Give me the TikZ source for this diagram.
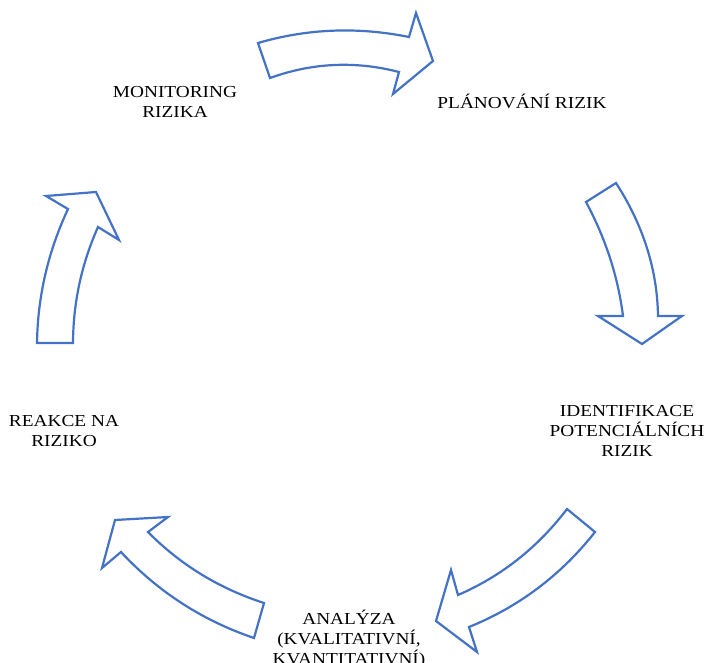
\documentclass[tikz,border=0pt]{standalone}
\usepackage{fontspec}
\setmainfont{Liberation Serif}[FakeStretch=1.15]
\definecolor{arrowblue}{HTML}{4472C4}
\begin{document}
\begin{tikzpicture}[x=1pt,y=-1pt,
  blockarrow/.style={draw=arrowblue, line width=2.2pt, fill=white, line join=miter},
  cyclabel/.style={align=center, font=\fontsize{16.8}{20}\selectfont, inner sep=0pt, text=black}]
\useasboundingbox (0,0) rectangle (707,663);

% block arrows
\draw[blockarrow] (258,43) .. controls (307.3,28.6) and (357.6,26.6) .. (409,37) -- (416,13) -- (433,61) -- (393,94) -- (399,72)
  .. controls (355.3,60.7) and (312.3,62.7) .. (270,78) -- cycle;
\draw[blockarrow] (586,202) -- (616,183) .. controls (643.3,225.3) and (657.3,269.7) .. (658,316) -- (682,316) -- (642,344) -- (598,316) -- (623,316)
  .. controls (618,276.7) and (605.7,238.7) .. (586,202) -- cycle;
\draw[blockarrow] (567,509) .. controls (537.7,547.5) and (501.4,576.2) .. (458,595) -- (451,570) -- (436,621) -- (477,652) -- (469,627)
  .. controls (519.1,606.7) and (561.1,575) .. (595,532) -- cycle;
\draw[blockarrow] (264,603) .. controls (219.2,588.5) and (180.5,564.9) .. (148,532) -- (168,517) -- (115,520) -- (102,568) -- (121,552)
  .. controls (157.9,591.7) and (202.2,620.4) .. (254,638) -- cycle;
\draw[blockarrow] (37,343) .. controls (37.7,296.3) and (48.1,251.7) .. (68,209) -- (46,196) -- (96,192) -- (119,240) -- (98,227)
  .. controls (81.5,264.1) and (73.2,302.7) .. (73,343) -- cycle;

% labels
\node[cyclabel] (monitoring) at (175,102) {MONITORING\\RIZIKA};
\node[cyclabel] (planovani) at (522,101) {PLÁNOVÁNÍ RIZIK};
\node[cyclabel] (identifikace) at (627,431) {IDENTIFIKACE\\POTENCIÁLNÍCH\\RIZIK};
\node[cyclabel] (analyza) at (349,639) {ANALÝZA\\(KVALITATIVNÍ,\\KVANTITATIVNÍ)};
\node[cyclabel] (reakce) at (64,431) {REAKCE NA\\RIZIKO};
\end{tikzpicture}
\end{document}
